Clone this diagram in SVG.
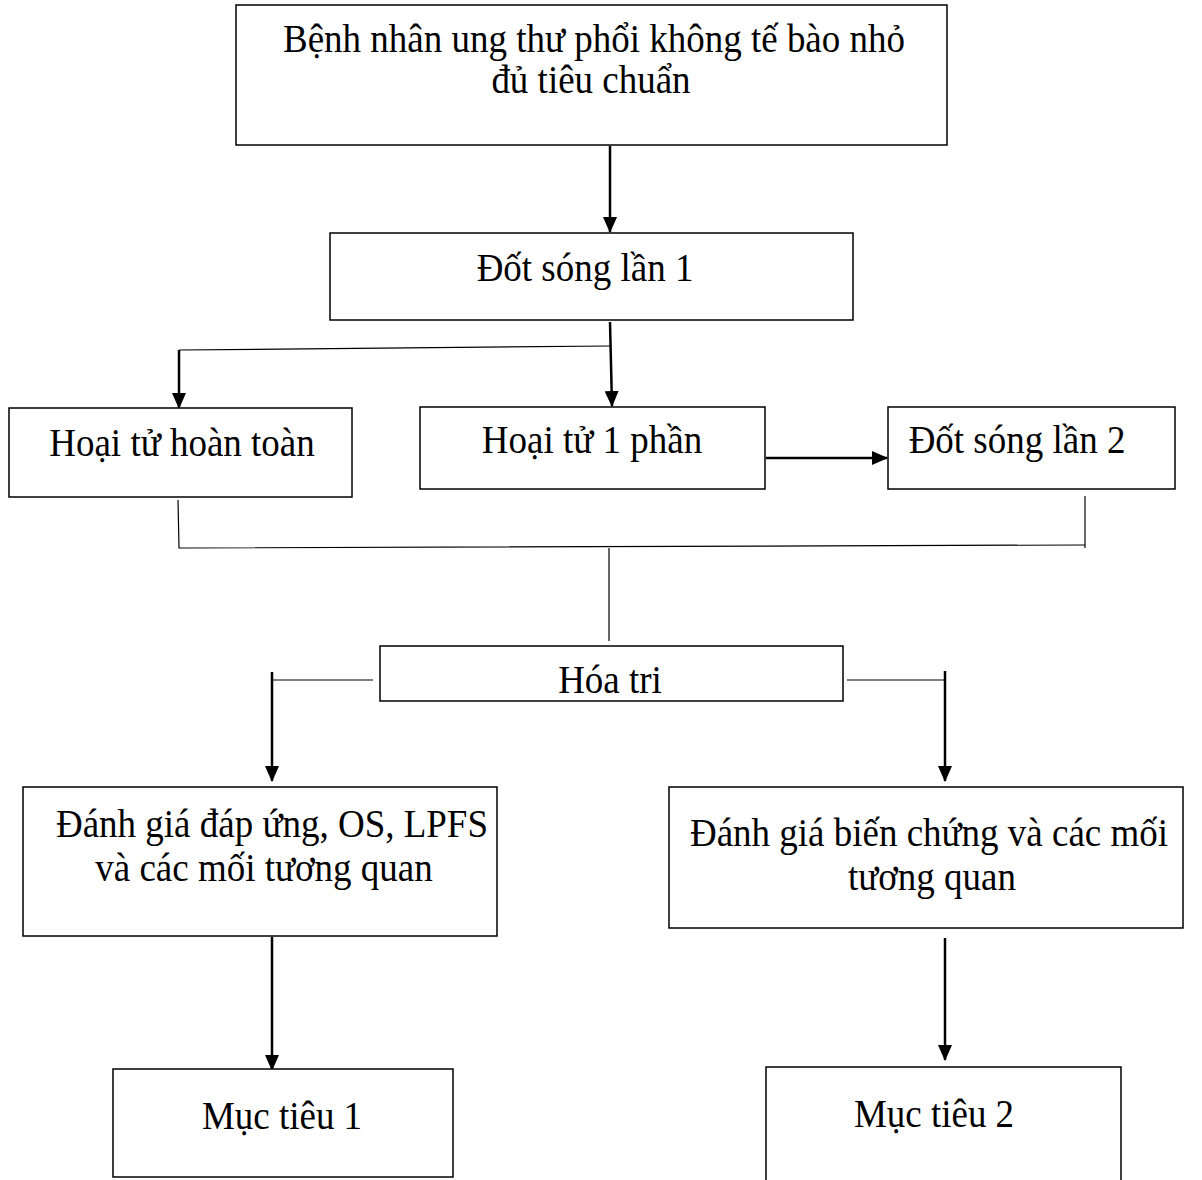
<svg xmlns="http://www.w3.org/2000/svg" width="1202" height="1180" viewBox="0 0 1202 1180">
<defs>
<style>
.box{fill:#fff;stroke:#000;stroke-width:1.5}
.t{font-family:"Liberation Serif","Times New Roman",serif;font-size:37px;fill:#000;text-anchor:middle}
.c{fill:none;stroke:#000;stroke-width:1.2}
.a{fill:none;stroke:#000;stroke-width:2.5}
</style>
<marker id="ahl" markerWidth="16" markerHeight="14" refX="15" refY="7" orient="auto" markerUnits="userSpaceOnUse" viewBox="0 0 16 14">
<path d="M0,0 L16,7 L0,14 Z" fill="#000"/>
</marker>
</defs>
<rect width="1202" height="1180" fill="#fff"/>
<g id="connectors">
<line class="a" x1="610" y1="146" x2="610" y2="232" marker-end="url(#ahl)"/>
<line class="a" x1="610" y1="322" x2="612" y2="406" marker-end="url(#ahl)"/>
<polyline class="c" points="611,346 179,350"/>
<line class="a" x1="179" y1="350" x2="179" y2="408" marker-end="url(#ahl)"/>
<line class="a" x1="766" y1="458" x2="887" y2="458" marker-end="url(#ahl)"/>
<polyline class="c" points="178,500 179,548 1085,545"/>
<line class="c" x1="1085" y1="496" x2="1085" y2="548"/>
<line class="c" x1="609" y1="548" x2="609" y2="641"/>
<line class="c" x1="272" y1="680" x2="373" y2="680"/>
<line class="a" x1="272" y1="672" x2="272" y2="781" marker-end="url(#ahl)"/>
<line class="c" x1="847" y1="680" x2="945" y2="680"/>
<line class="a" x1="945" y1="671" x2="945" y2="781" marker-end="url(#ahl)"/>
<line class="a" x1="272" y1="937" x2="272" y2="1070" marker-end="url(#ahl)"/>
<line class="a" x1="945" y1="938" x2="945" y2="1060" marker-end="url(#ahl)"/>
</g>
<g id="n1"><rect class="box" x="236" y="5" width="711" height="140"/>
<text class="t" transform="translate(594,52) scale(1,1.06)">Bệnh nhân ung thư phổi không tế bào nhỏ</text>
<text class="t" transform="translate(591,93) scale(1,1.06)">đủ tiêu chuẩn</text></g>
<g id="n2"><rect class="box" x="330" y="233" width="523" height="87"/>
<text class="t" transform="translate(585,281) scale(1,1.06)">Đốt sóng lần 1</text></g>
<g id="n3"><rect class="box" x="9" y="408" width="343" height="89"/>
<text class="t" transform="translate(182,456) scale(1,1.06)">Hoại tử hoàn toàn</text></g>
<g id="n4"><rect class="box" x="420" y="407" width="345" height="82"/>
<text class="t" transform="translate(592,453) scale(1,1.06)">Hoại tử 1 phần</text></g>
<g id="n5"><rect class="box" x="888" y="407" width="287" height="82"/>
<text class="t" transform="translate(1017,453) scale(1,1.06)">Đốt sóng lần 2</text></g>
<g id="n6"><rect class="box" x="380" y="646" width="463" height="55"/>
<text class="t" transform="translate(610,693) scale(1,1.06)">Hóa tri</text></g>
<g id="n7"><rect class="box" x="23" y="787" width="474" height="149"/>
<text class="t" transform="translate(272,837) scale(1,1.06)">Đánh giá đáp ứng, OS, LPFS</text>
<text class="t" transform="translate(264,881) scale(1,1.06)">và các mối tương quan</text></g>
<g id="n8"><rect class="box" x="669" y="787" width="514" height="141"/>
<text class="t" transform="translate(929,846) scale(1,1.06)">Đánh giá biến chứng và các mối</text>
<text class="t" transform="translate(932,890) scale(1,1.06)">tương quan</text></g>
<g id="n9"><rect class="box" x="113" y="1069" width="340" height="108"/>
<text class="t" transform="translate(282,1129) scale(1,1.06)">Mục tiêu 1</text></g>
<g id="n10"><rect class="box" x="766" y="1067" width="355" height="130"/>
<text class="t" transform="translate(934,1127) scale(1,1.06)">Mục tiêu 2</text></g>
</svg>
